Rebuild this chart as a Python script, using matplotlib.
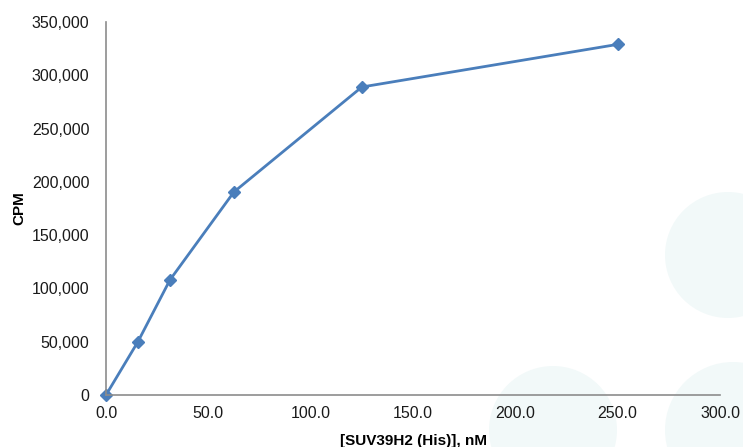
import matplotlib.pyplot as plt
from matplotlib.patches import Ellipse
from matplotlib.ticker import FuncFormatter

# enzyme titration, CPM vs concentration
conc_nM = [0.0, 15.6, 31.25, 62.5, 125.0, 250.0]
cpm = [0, 50000, 108000, 190500, 289000, 329000]

plt.rcParams['font.family'] = ['Liberation Sans', 'DejaVu Sans']

W, H = 743, 447
fig = plt.figure(figsize=(W / 100, H / 100), dpi=100)

# faint watermark circles in the background (pixel centres / radius)
for cx, cy, r in [(728, 255, 63), (553, 430, 64), (733, 430, 68)]:
    fig.patches.append(Ellipse((cx / W, 1 - cy / H), 2 * r / W, 2 * r / H,
                               transform=fig.transFigure,
                               facecolor='#f2f9f9', edgecolor='none', zorder=-5))

ax = fig.add_axes([106 / W, 1 - 395 / H, 614 / W, 373 / H])
ax.patch.set_alpha(0)
ax.set_zorder(2)

ax.plot(conc_nM, cpm, color='#4a7ebb', lw=2, marker='D', ms=6, clip_on=False)

ax.set_xlim(0, 300)
ax.set_ylim(0, 350000)
ax.set_xticks(range(0, 301, 50))
ax.set_yticks(range(0, 350001, 50000))
ax.xaxis.set_major_formatter(FuncFormatter(lambda v, p: '%.1f' % v))
ax.yaxis.set_major_formatter(FuncFormatter(lambda v, p: '{:,.0f}'.format(v)))
ax.tick_params(length=0, labelsize=11.5, colors='#1a1a1a', pad=8)
ax.tick_params(axis='y', pad=12)

for s in ['top', 'right']:
    ax.spines[s].set_visible(False)
for s in ['left', 'bottom']:
    ax.spines[s].set_color('#8c8c8c')
    ax.spines[s].set_linewidth(1.2)

ax.set_xlabel('[SUV39H2 (His)], nM', fontsize=11, fontweight='bold', labelpad=9)
ax.set_ylabel('CPM', fontsize=11, fontweight='bold', labelpad=4)

fig.savefig('out.png', dpi=100)
